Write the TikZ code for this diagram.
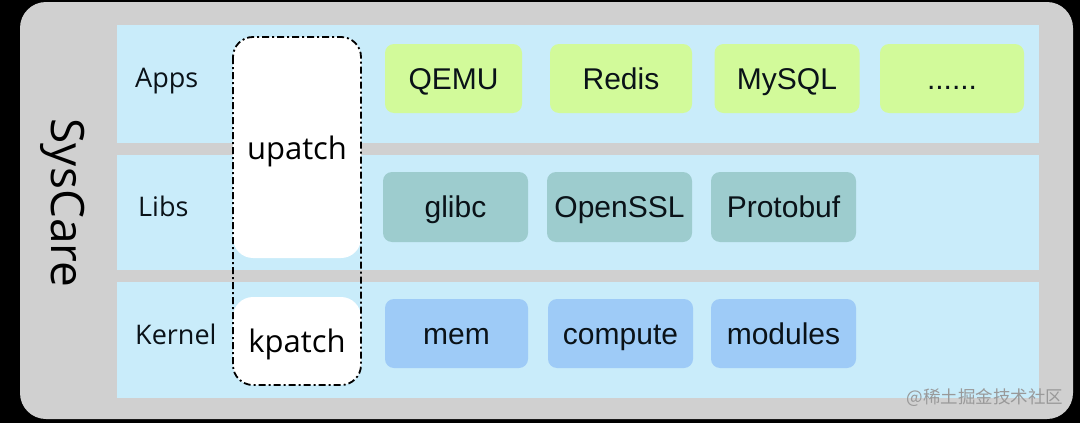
\documentclass[tikz,border=0pt]{standalone}
\usepackage{fontspec}
\setmainfont{Open Sans}
\newfontfamily\arialf{Liberation Sans}
\newfontfamily\cjkf{Noto Sans CJK SC}
\definecolor{bandblue}{HTML}{C9ECFA}
\definecolor{framegray}{HTML}{D0D0D0}
\definecolor{appgreen}{HTML}{D2FA9A}
\definecolor{libteal}{HTML}{9DCCCE}
\definecolor{kernblue}{HTML}{9ECBF7}
\definecolor{txt}{HTML}{0A1218}
\begin{document}
\begin{tikzpicture}[x=1pt,y=-1pt,
  band/.style={fill=bandblue,draw=none},
  comp/.style={rounded corners=9pt,draw=none,font=\arialf\fontsize{30}{32}\selectfont,text=txt,
    text height=21.5pt,text depth=0pt,inner sep=0pt},
  lbl/.style={anchor=west,font=\fontsize{27}{30}\selectfont,text=txt,text height=19.3pt,text depth=0pt,inner sep=0pt},
  patchbox/.style={fill=white,draw=none,rounded corners=20pt},
  patchtxt/.style={font=\fontsize{31}{33}\selectfont,text=black,text height=22pt,text depth=0pt,inner sep=0pt}]
\useasboundingbox (0,0) rectangle (1080,423);
\fill[black] (0,0) rectangle (1080,423);
\fill[framegray,rounded corners=26pt] (20,2) rectangle (1073,419);
% bands
\fill[band] (117,25) rectangle (1039,143);
\fill[band] (117,155) rectangle (1039,270);
\fill[band] (117,282) rectangle (1039,398);
% side label
\node[rotate=-90,font=\fontsize{46}{48}\selectfont,text=black] (sys) at (63,203) {SysCare};
% row labels
\node[lbl] (apps) at (135,78) {Apps};
\node[lbl] (libs) at (138,207) {Libs};
\node[lbl] (kernel) at (135,335) {Kernel};
% patch boxes
\fill[patchbox] (233,37) rectangle (361,258);
\fill[patchbox] (233,297) rectangle (361,385);
\draw[line width=1.8pt,rounded corners=20pt,dash pattern=on 7pt off 3pt on 2pt off 3pt] (233,37) rectangle (361,385);
\node[patchtxt] (upatch) at (297,148.5) {upatch};
\node[patchtxt] (kpatch) at (297,341) {kpatch};
% apps
\node[comp,fill=appgreen,minimum width=137pt,minimum height=69pt] (qemu) at (453.5,78.5) {QEMU};
\node[comp,fill=appgreen,minimum width=142pt,minimum height=69pt] (redis) at (621,78.5) {Redis};
\node[comp,fill=appgreen,minimum width=145pt,minimum height=69pt] (mysql) at (787,78.5) {MySQL};
\node[comp,fill=appgreen,minimum width=144pt,minimum height=69pt] (more) at (952,78.5) {......};
% libs
\node[comp,fill=libteal,minimum width=145pt,minimum height=70pt] (glibc) at (455.5,207) {glibc};
\node[comp,fill=libteal,minimum width=145pt,minimum height=70pt] (openssl) at (619.5,207) {OpenSSL};
\node[comp,fill=libteal,minimum width=145pt,minimum height=70pt] (protobuf) at (783.5,207) {Protobuf};
% kernel
\node[comp,fill=kernblue,minimum width=143pt,minimum height=69pt] (mem) at (456.5,333.5) {mem};
\node[comp,fill=kernblue,minimum width=145pt,minimum height=69pt] (compute) at (620.5,333.5) {compute};
\node[comp,fill=kernblue,minimum width=145pt,minimum height=69pt] (modules) at (783.5,333.5) {modules};
% watermark
\node[font=\cjkf\fontsize{17.5}{19}\selectfont,text=black!40] (wm) at (985,398) {@稀土掘金技术社区};
\end{tikzpicture}
\end{document}
